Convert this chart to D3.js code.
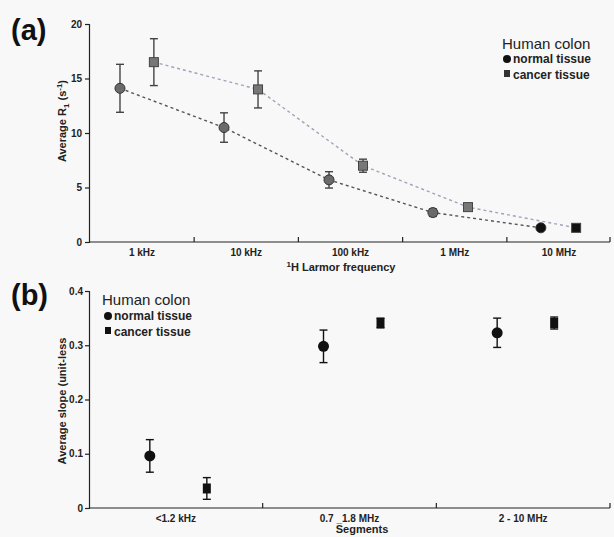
<!DOCTYPE html>
<meta charset="utf-8">
<script src="https://cdn.jsdelivr.net/npm/d3@7"></script>
<style>
body { margin: 0; background: #f8f8f8; }
svg { display: block; font-family: "Liberation Sans", Arial, sans-serif; }
.axis path, .axis line { stroke: #222; stroke-width: 1.2px; }
.axis text { font-size: 10px; font-weight: bold; fill: #222; }
.panel { font-size: 29px; font-weight: bold; fill: #111; }
.axlabel { font-size: 11px; font-weight: bold; fill: #222; }
.legtitle { font-size: 15px; fill: #222; }
.legitem { font-size: 12px; font-weight: bold; fill: #222; }
</style>
<body>
<script>

// panel (a): average R1 vs 1H Larmor frequency (Hz)
var freqNormal = [615, 6120, 62200, 617000, 6700000];
var r1Normal = [14.1, 10.5, 5.7, 2.7, 1.3];
var errNormal = [2.2, 1.35, 0.75, 0.35, 0.1];

var freqCancer = [1300, 12970, 131800, 1340000, 14600000];
var r1Cancer = [16.5, 14.0, 7.0, 3.2, 1.3];
var errCancer = [2.15, 1.7, 0.6, 0.25, 0.1];

var freqLabels = [1e3, 1e4, 1e5, 1e6, 1e7];
var freqNames = ["1 kHz", "10 kHz", "100 kHz", "1 MHz", "10 MHz"];
var r1Ticks = [0, 5, 10, 15, 20];

// panel (b): average slope per segment
var segments = ["<1.2 kHz", "0.7  _1.8 MHz", "2 - 10 MHz"];
var slopeNormal = [0.096, 0.298, 0.323];
var slopeErrNormal = [0.03, 0.03, 0.027];
var slopeCancer = [0.036, 0.341, 0.341];
var slopeErrCancer = [0.02, 0.009, 0.011];
var slopeTicks = [0, 0.1, 0.2, 0.3, 0.4];

var width = 614, height = 537;

var svg = d3.select("body").append("svg")
    .attr("width", width)
    .attr("height", height);

svg.append("rect").attr("x", 0).attr("y", 0).attr("width", width).attr("height", height).attr("fill", "#f8f8f8");

// ---------- panel (a) ----------
var xa = d3.scaleLog().domain([1e3, 1e7]).range([142, 559]);
var ya = d3.scaleLinear().domain([0, 20]).range([242, 24]);

svg.append("text").attr("class", "panel").attr("x", 11).attr("y", 40).text("(a)");

// y axis
svg.append("g").attr("class", "axis")
    .attr("transform", "translate(89,0)")
    .call(d3.axisLeft(ya).tickValues(r1Ticks).tickSize(4).tickPadding(3));

// x axis: line with inner ticks at half-decades, labels at decades
var ga = svg.append("g").attr("class", "axis").attr("transform", "translate(0,242)");
ga.append("line").attr("x1", 89).attr("x2", 610).attr("y1", 0).attr("y2", 0);
ga.selectAll(".half")
    .data(freqLabels.slice(0, 4).map(function(f) { return f * Math.sqrt(10); }))
    .enter().append("line")
    .attr("x1", function(d) { return xa(d); })
    .attr("x2", function(d) { return xa(d); })
    .attr("y1", 0).attr("y2", -5);
ga.append("line").attr("x1", 610).attr("x2", 610).attr("y1", 0).attr("y2", -5);
ga.selectAll(".lab")
    .data(freqLabels)
    .enter().append("text")
    .attr("x", function(d) { return xa(d); })
    .attr("y", 14)
    .attr("text-anchor", "middle")
    .text(function(d, i) { return freqNames[i]; });

// axis labels
var ylab = svg.append("text").attr("class", "axlabel")
    .attr("transform", "translate(66,121) rotate(-90)")
    .attr("text-anchor", "middle");
ylab.append("tspan").text("Average R");
ylab.append("tspan").attr("font-size", "8px").attr("dy", 3).text("1");
ylab.append("tspan").attr("dy", -3).text(" (s");
ylab.append("tspan").attr("font-size", "8px").attr("dy", -4).text("-1");
ylab.append("tspan").attr("dy", 4).text(")");

var xlab = svg.append("text").attr("class", "axlabel")
    .attr("x", 341).attr("y", 271).attr("text-anchor", "middle");
xlab.append("tspan").attr("font-size", "8px").attr("dy", -4).text("1");
xlab.append("tspan").attr("dy", 4).text("H Larmor frequency");

function seriesA(freqs, vals, errs, shape, lineColor) {
  var pts = freqs.map(function(f, i) { return {f: f, v: vals[i], e: errs[i]}; });
  var line = d3.line().x(function(d) { return xa(d.f); }).y(function(d) { return ya(d.v); });
  svg.append("path").datum(pts)
      .attr("d", line)
      .attr("fill", "none")
      .attr("stroke", lineColor)
      .attr("stroke-width", 1.4)
      .attr("stroke-dasharray", "3,3");
  var g = svg.append("g").selectAll("g").data(pts).enter().append("g");
  g.append("line")
      .attr("x1", function(d) { return xa(d.f); }).attr("x2", function(d) { return xa(d.f); })
      .attr("y1", function(d) { return ya(d.v - d.e); }).attr("y2", function(d) { return ya(d.v + d.e); })
      .attr("stroke", "#444").attr("stroke-width", 1.4);
  [-1, 1].forEach(function(s) {
    g.append("line")
        .attr("x1", function(d) { return xa(d.f) - 4; }).attr("x2", function(d) { return xa(d.f) + 4; })
        .attr("y1", function(d) { return ya(d.v + s * d.e); }).attr("y2", function(d) { return ya(d.v + s * d.e); })
        .attr("stroke", "#444").attr("stroke-width", 1.4);
  });
  if (shape == "circle") {
    g.append("circle")
        .attr("cx", function(d) { return xa(d.f); })
        .attr("cy", function(d) { return ya(d.v); })
        .attr("r", 5)
        .attr("fill", function(d) { return d.f > 5e6 ? "#111" : "#6a6a6a"; })
        .attr("stroke", "#333").attr("stroke-width", 1);
  } else {
    g.append("rect")
        .attr("x", function(d) { return xa(d.f) - 4.5; })
        .attr("y", function(d) { return ya(d.v) - 4.5; })
        .attr("width", 9).attr("height", 9)
        .attr("fill", function(d) { return d.f > 5e6 ? "#111" : "#777"; })
        .attr("stroke", "#444").attr("stroke-width", 1);
  }
}

seriesA(freqCancer, r1Cancer, errCancer, "square", "#9ea4b8");
seriesA(freqNormal, r1Normal, errNormal, "circle", "#555");

// legend (a)
svg.append("text").attr("class", "legtitle").attr("x", 502).attr("y", 49).text("Human colon");
svg.append("circle").attr("cx", 507).attr("cy", 59).attr("r", 4).attr("fill", "#111");
svg.append("text").attr("class", "legitem").attr("x", 513).attr("y", 63).text("normal tissue");
svg.append("rect").attr("x", 504).attr("y", 70).attr("width", 6).attr("height", 7).attr("fill", "#333");
svg.append("text").attr("class", "legitem").attr("x", 513).attr("y", 79).text("cancer tissue");

// ---------- panel (b) ----------
var xb = d3.scaleBand().domain(segments).range([89, 610]);
var off = d3.scalePoint().domain(["normal", "cancer"]).range([-26, 31]);
var yb = d3.scaleLinear().domain([0, 0.4]).range([508, 291]);

svg.append("text").attr("class", "panel").attr("x", 11).attr("y", 305).text("(b)");

svg.append("g").attr("class", "axis")
    .attr("transform", "translate(89,0)")
    .call(d3.axisLeft(yb).tickValues(slopeTicks).tickSize(4).tickPadding(2)
      .tickFormat(function(d) { return d == 0 ? "0" : d3.format(".1f")(d); }));

var gb = svg.append("g").attr("class", "axis").attr("transform", "translate(0,508)");
gb.append("line").attr("x1", 89).attr("x2", 610).attr("y1", 0).attr("y2", 0);
gb.selectAll(".sep")
    .data(segments.slice(1).concat(["end"]))
    .enter().append("line")
    .attr("x1", function(d) { return d == "end" ? 610 : xb(d); })
    .attr("x2", function(d) { return d == "end" ? 610 : xb(d); })
    .attr("y1", 0).attr("y2", -5);
gb.selectAll(".lab")
    .data(segments)
    .enter().append("text")
    .attr("x", function(d) { return xb(d) + xb.bandwidth() / 2; })
    .attr("y", 14)
    .attr("text-anchor", "middle")
    .text(function(d) { return d; });

svg.append("text").attr("class", "axlabel")
    .attr("transform", "translate(66,401) rotate(-90)")
    .attr("text-anchor", "middle")
    .text("Average slope  (unit-less");
svg.append("text").attr("class", "axlabel")
    .attr("x", 362).attr("y", 533).attr("text-anchor", "middle")
    .text("Segments");

function seriesB(name, vals, errs, shape) {
  var pts = segments.map(function(s, i) { return {x: xb(s) + xb.bandwidth() / 2 + off(name), v: vals[i], e: errs[i]}; });
  var g = svg.append("g").selectAll("g").data(pts).enter().append("g");
  g.append("line")
      .attr("x1", function(d) { return d.x; }).attr("x2", function(d) { return d.x; })
      .attr("y1", function(d) { return yb(d.v - d.e); }).attr("y2", function(d) { return yb(d.v + d.e); })
      .attr("stroke", "#111").attr("stroke-width", 1.4);
  [-1, 1].forEach(function(s) {
    g.append("line")
        .attr("x1", function(d) { return d.x - 4; }).attr("x2", function(d) { return d.x + 4; })
        .attr("y1", function(d) { return yb(d.v + s * d.e); }).attr("y2", function(d) { return yb(d.v + s * d.e); })
        .attr("stroke", "#111").attr("stroke-width", 1.4);
  });
  if (shape == "circle") {
    g.append("circle")
        .attr("cx", function(d) { return d.x; })
        .attr("cy", function(d) { return yb(d.v); })
        .attr("r", 5.5).attr("fill", "#111");
  } else {
    g.append("rect")
        .attr("x", function(d) { return d.x - 4; })
        .attr("y", function(d) { return yb(d.v) - 5; })
        .attr("width", 8).attr("height", 10).attr("fill", "#111");
  }
}

seriesB("normal", slopeNormal, slopeErrNormal, "circle");
seriesB("cancer", slopeCancer, slopeErrCancer, "square");

// legend (b)
svg.append("text").attr("class", "legtitle").attr("x", 102).attr("y", 305).text("Human colon");
svg.append("circle").attr("cx", 108).attr("cy", 316).attr("r", 4).attr("fill", "#111");
svg.append("text").attr("class", "legitem").attr("x", 114).attr("y", 320).text("normal tissue");
svg.append("rect").attr("x", 105).attr("y", 327).attr("width", 6).attr("height", 7).attr("fill", "#111");
svg.append("text").attr("class", "legitem").attr("x", 114).attr("y", 336).text("cancer tissue");

</script>
</body>
